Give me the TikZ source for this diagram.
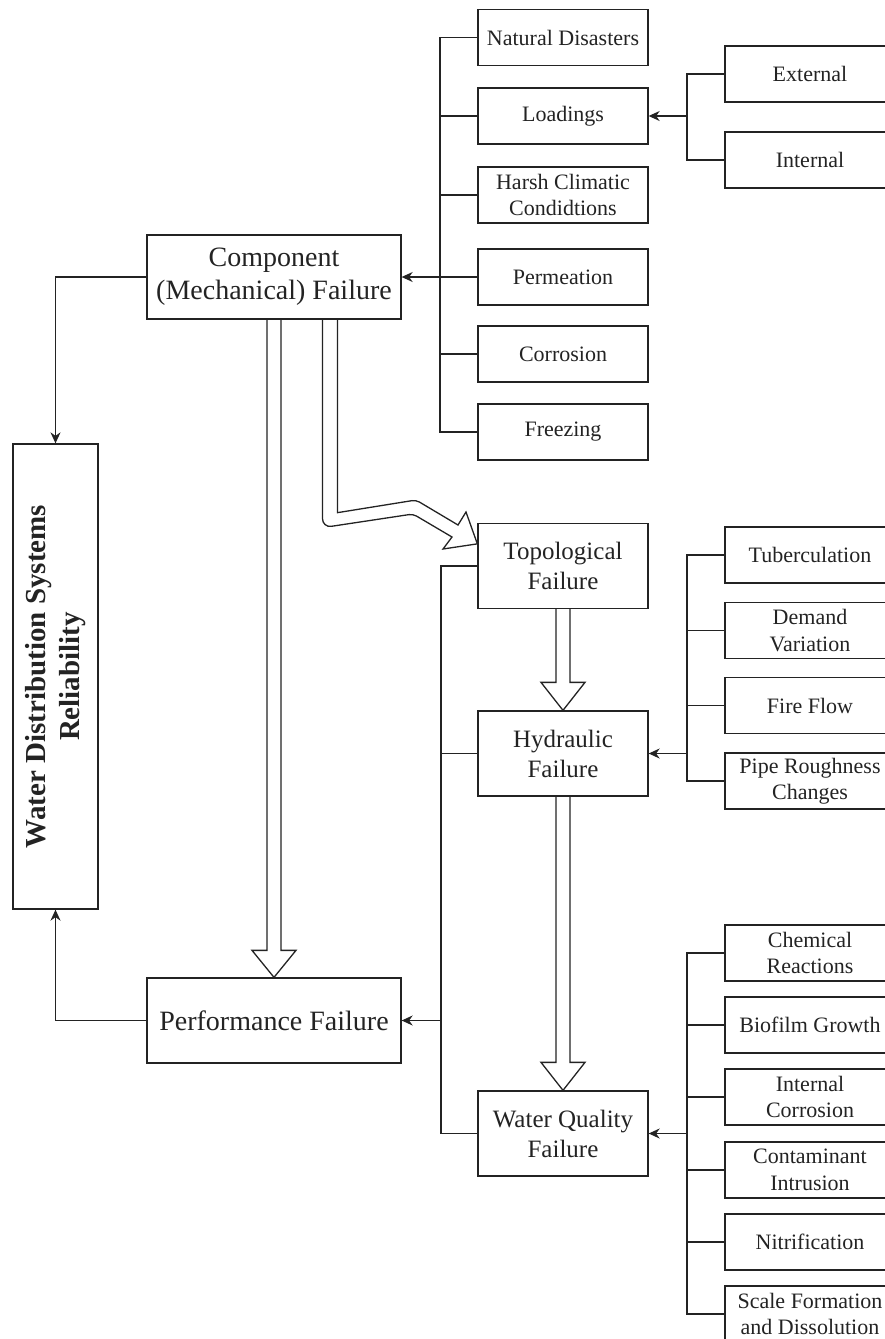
\documentclass[tikz,border=0pt]{standalone}
\usepackage{fontspec}
\setmainfont{Liberation Serif}
\usetikzlibrary{arrows.meta,calc}
\definecolor{ink}{RGB}{35,35,35}
\begin{document}
\begin{tikzpicture}[x=1pt,y=-1pt,
  box/.style={draw=ink, text=ink, line width=1.3pt, inner sep=0pt, align=center},
  mainbox/.style={box, minimum width=254pt, minimum height=84pt, font=\fontsize{28}{33}\selectfont},
  midbox/.style={box, minimum width=170pt, minimum height=85pt, font=\fontsize{25}{30}\selectfont},
  subbox/.style={box, minimum width=170pt, minimum height=56pt, font=\fontsize{22}{26.4}\selectfont},
  link/.style={draw=ink, line width=1.3pt},
  arr/.style={link, -{Stealth[length=11pt,width=10pt,inset=3.5pt]}},
  fat/.style={draw=ink, line width=1.3pt, line join=miter}]
\useasboundingbox (0,0) rectangle (885,1339);
\clip (0,0) rectangle (885,1339);

% main boxes
\node[mainbox] (comp) at (274,277) {Component\\(Mechanical) Failure};
\node[mainbox, minimum height=85pt] (perf) at (274,1020.5) {Performance Failure};
\node[box, minimum width=85pt, minimum height=465pt] (wdsr) at (55.5,676.5)
  {\rotatebox{90}{\fontsize{29}{34}\selectfont\bfseries\begin{tabular}{@{}c@{}}Water Distribution Systems\\Reliability\end{tabular}}};

% middle boxes
\node[midbox] (topo) at (563,566) {Topological\\Failure};
\node[midbox] (hyd) at (563,753.5) {Hydraulic\\Failure};
\node[midbox] (wq) at (563,1133.5) {Water Quality\\Failure};

% component causes
\node[subbox] (nd) at (563,37.5) {Natural Disasters};
\node[subbox] (load) at (563,116) {Loadings};
\node[subbox] (harsh) at (563,195) {Harsh Climatic\\Condidtions};
\node[subbox] (perm) at (563,277) {Permeation};
\node[subbox] (corr) at (563,354) {Corrosion};
\node[subbox] (freeze) at (563,432) {Freezing};

\node[subbox] (ext) at (810,74) {External};
\node[subbox] (int) at (810,160) {Internal};

% hydraulic causes
\node[subbox] (tub) at (810,555) {Tuberculation};
\node[subbox] (dem) at (810,630.5) {Demand\\Variation};
\node[subbox] (fire) at (810,705.5) {Fire Flow};
\node[subbox] (pipe) at (810,781) {Pipe Roughness\\Changes};

% water quality causes
\node[subbox] (chem) at (810,953) {Chemical\\Reactions};
\node[subbox] (bio) at (810,1025) {Biofilm Growth};
\node[subbox] (icorr) at (810,1097) {Internal\\Corrosion};
\node[subbox] (cont) at (810,1170) {Contaminant\\Intrusion};
\node[subbox] (nitr) at (810,1242) {Nitrification};
\node[subbox] (scale) at (810,1314) {Scale Formation\\and Dissolution};

% component trunk
\coordinate (tA) at (440,277);
\draw[link] (nd.west) -| (tA) |- (freeze.west);
\foreach \n in {load,harsh,corr} \draw[link] (\n.west) -- (\n.west -| tA);
\draw[arr] (perm.west) -- (comp.east);

% loadings trunk
\coordinate (tB) at (687,116);
\draw[link] (ext.west) -| (tB) |- (int.west);
\draw[arr] (tB) -- (load.east);

% hydraulic trunk
\coordinate (tC) at (687,753.5);
\draw[link] (tub.west) -| (tC) |- (pipe.west);
\foreach \n in {dem,fire} \draw[link] (\n.west) -- (\n.west -| tC);
\draw[arr] (tC) -- (hyd.east);

% water quality trunk
\coordinate (tD) at (687,1133.5);
\draw[link] (chem.west) -| (tD) |- (scale.west);
\foreach \n in {bio,icorr,cont,nitr} \draw[link] (\n.west) -- (\n.west -| tD);
\draw[arr] (tD) -- (wq.east);

% performance trunk
\coordinate (tE) at (441,1020.5);
\draw[link] (topo.west) -| (tE) |- (wq.west);
\draw[link] (hyd.west) -- (hyd.west -| tE);
\draw[arr] (tE) -- (perf.east);

% to reliability
\draw[arr] (comp.west) -| (wdsr.north);
\draw[arr] (perf.west) -| (wdsr.south);

% fat arrows
\draw[fat] ($(comp.south)+(-7,0)$) -- ($(perf.north)+(-7,-27)$) -- ($(perf.north)+(-22,-27)$)
  -- (perf.north) -- ($(perf.north)+(22,-27)$) -- ($(perf.north)+(7,-27)$) -- ($(comp.south)+(7,0)$);
\draw[fat] ($(topo.south)+(-7,0)$) -- ($(hyd.north)+(-7,-28)$) -- ($(hyd.north)+(-22,-28)$)
  -- (hyd.north) -- ($(hyd.north)+(22,-28)$) -- ($(hyd.north)+(7,-28)$) -- ($(topo.south)+(7,0)$);
\draw[fat] ($(hyd.south)+(-7,0)$) -- ($(wq.north)+(-7,-28)$) -- ($(wq.north)+(-22,-28)$)
  -- (wq.north) -- ($(wq.north)+(22,-28)$) -- ($(wq.north)+(7,-28)$) -- ($(hyd.south)+(7,0)$);

% bent fat arrow
\coordinate (bs) at ($(comp.south)+(56,0)$);
\coordinate (bt) at ($(topo.north west)+(0,21)$);
\draw[fat] ($(bs)+(-7.5,0)$) [rounded corners=9pt] -- ($(bs)+(-7.5,208)$) [rounded corners=4pt] -- (413,514)
  [sharp corners] -- (452,537) -- (443,549) -- (bt) -- (466,512) -- (458,525)
  [rounded corners=4pt] -- (416,500) [sharp corners] -- ($(bs)+(7.5,193)$) -- ($(bs)+(7.5,0)$);
\end{tikzpicture}
\end{document}
